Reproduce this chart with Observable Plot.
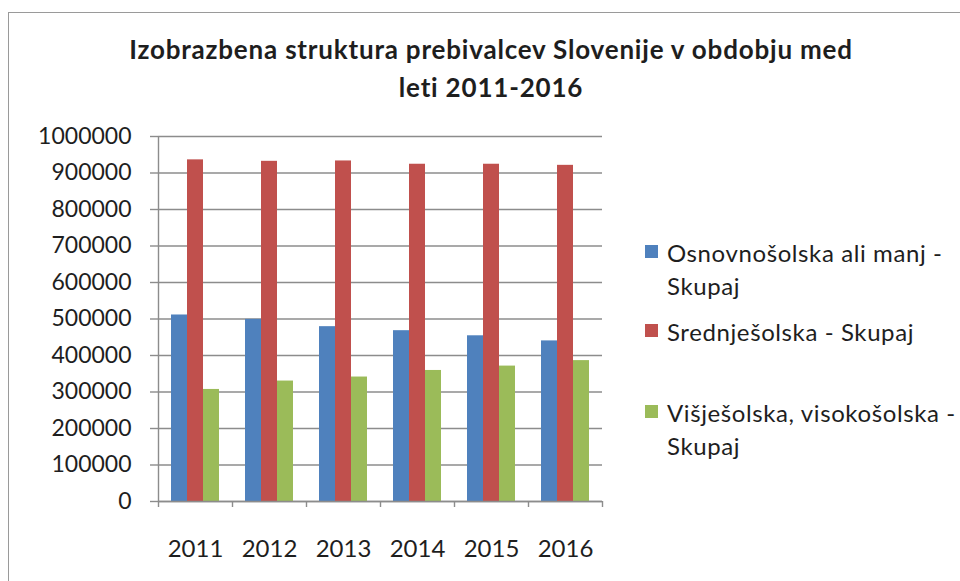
<!DOCTYPE html>
<html>
<head>
<meta charset="utf-8">
<script src="https://cdn.jsdelivr.net/npm/d3@7"></script>
<script src="https://cdn.jsdelivr.net/npm/@observablehq/plot@0.6"></script>
<style>
  html, body { margin: 0; padding: 0; background: #fff; }
  #wrap { position: relative; width: 960px; height: 581px; overflow: hidden; font-family: Lato, "Open Sans", sans-serif; color: #1e1e1e; }
  #border { position: absolute; left: 8px; top: 12px; width: 1000px; height: 700px; border: 1.5px solid #9a9a9a; box-sizing: border-box; }
  #title { position: absolute; left: 41px; width: 900px; top: 30px; text-align: center; font-weight: bold; font-size: 26px; letter-spacing: 0.8px; line-height: 38px; }
  #chart { position: absolute; left: 0; top: 120px; }
  .leg { position: absolute; left: 645px; font-size: 24px; letter-spacing: 0.6px; line-height: 33px; }
  .sw { position: absolute; width: 13px; height: 13px; left: 0; }
  .lt { position: absolute; left: 22px; white-space: nowrap; }
</style>
</head>
<body>
<div id="wrap">
  <div id="border"></div>
  <div id="title">Izobrazbena struktura prebivalcev Slovenije v obdobju med<br>leti 2011-2016</div>
  <div id="chart"></div>
  <div id="legend"></div>
</div>
<script>
const years = ["2011", "2012", "2013", "2014", "2015", "2016"];
const series = ["Osnovnošolska ali manj - Skupaj", "Srednješolska - Skupaj", "Višješolska, visokošolska - Skupaj"];
const osnovnosolska = [511000, 499000, 479000, 468000, 454000, 440000];
const srednjesolska = [936000, 932000, 933000, 924000, 924000, 921000];
const visjesolska = [307000, 330000, 341000, 359000, 371000, 386000];
const yTicks = [0, 100000, 200000, 300000, 400000, 500000, 600000, 700000, 800000, 900000, 1000000];
const colors = ["#4F81BD", "#C0504D", "#9BBB59"];

const valuesBySeries = [osnovnosolska, srednjesolska, visjesolska];
const data = [];
years.forEach((yr, i) => {
  series.forEach((s, j) => data.push({year: yr, series: s, value: valuesBySeries[j][i]}));
});

const gridColor = "#8c8c8c";
const fontFam = "Lato, 'Open Sans', sans-serif";

const chart = Plot.plot({
  width: 620,
  height: 460,
  marginLeft: 157,
  marginRight: 18,
  marginTop: 16,
  marginBottom: 79,
  style: {fontFamily: fontFam, fontSize: "23px", color: "#1e1e1e", background: "transparent"},
  fx: {domain: years, padding: 0, label: null},
  x: {domain: series, paddingInner: 0, paddingOuter: 0.8125, axis: null},
  y: {domain: [0, 1000000], label: null},
  color: {domain: series, range: colors},
  marks: [
    Plot.gridY(yTicks, {stroke: gridColor, strokeOpacity: 1, strokeWidth: 1.4}),
    Plot.barY(data, {fx: "year", x: "series", y: "value", fill: "series"}),
    Plot.axisY(yTicks, {tickSize: 8, tickPadding: 19, tickFormat: d => String(d), stroke: gridColor, strokeWidth: 1.4, fontSize: 23, label: null}),
    Plot.ruleY([0], {stroke: gridColor, strokeWidth: 1.4}),
    Plot.ruleX([years[0]], {fx: d => d, x: () => series[0], dx: -21, y1: 0, y2: 1000000, stroke: gridColor, strokeWidth: 1.4}),
    Plot.ruleX(years, {fx: d => d, x: () => series[0], dx: -21, insetTop: 365, insetBottom: -6, stroke: gridColor, strokeWidth: 1.4}),
    Plot.ruleX([years[years.length - 1]], {fx: d => d, x: () => series[2], dx: 21, insetTop: 365, insetBottom: -6, stroke: gridColor, strokeWidth: 1.4}),
    Plot.axisFx({anchor: "bottom", tickSize: 0, tickPadding: 38, fontSize: 24, label: null})
  ]
});
document.getElementById("chart").appendChild(chart);

const legend = document.getElementById("legend");
const legendLayout = [
  {lines: ["Osnovnošolska ali manj -", "Skupaj"], top: 236},
  {lines: ["Srednješolska - Skupaj"], top: 315},
  {lines: ["Višješolska, visokošolska -", "Skupaj"], top: 396}
];
legendLayout.forEach((item, i) => {
  const div = document.createElement("div");
  div.className = "leg";
  div.style.top = item.top + "px";
  const sw = document.createElement("div");
  sw.className = "sw";
  sw.style.background = colors[i];
  sw.style.top = "9px";
  div.appendChild(sw);
  const t = document.createElement("div");
  t.className = "lt";
  t.innerHTML = item.lines.join("<br>");
  div.appendChild(t);
  legend.appendChild(div);
});
</script>
</body>
</html>
